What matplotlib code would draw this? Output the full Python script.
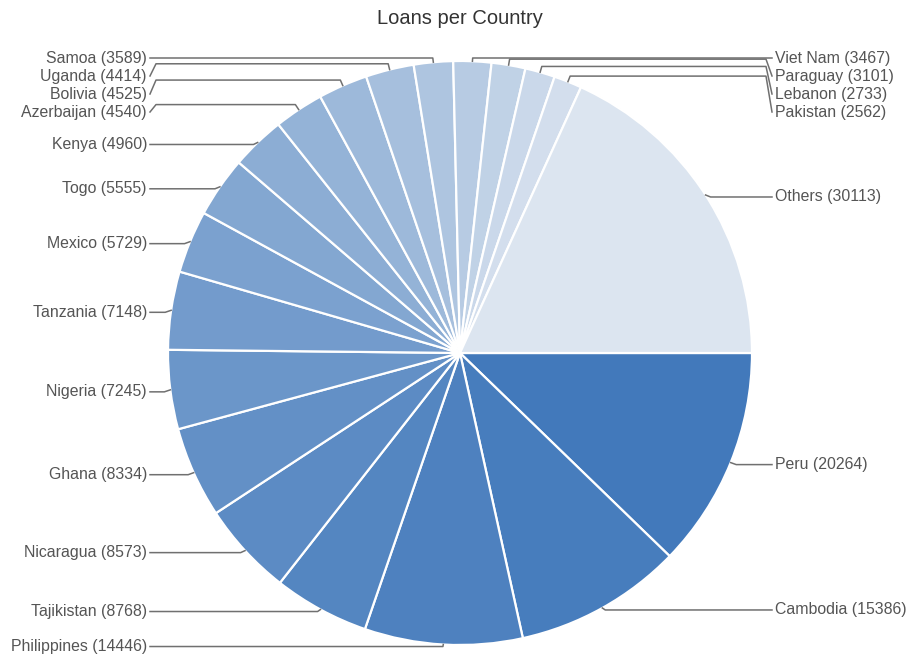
import numpy as np
import matplotlib
matplotlib.use("Agg")
import matplotlib.pyplot as plt

plt.rcParams['font.family'] = ['Liberation Sans', 'DejaVu Sans']

# data (clockwise from 3 o'clock)
countries = ["Peru", "Cambodia", "Philippines", "Tajikistan", "Nicaragua",
             "Ghana", "Nigeria", "Tanzania", "Mexico", "Togo", "Kenya",
             "Azerbaijan", "Bolivia", "Uganda", "Samoa", "Viet Nam",
             "Paraguay", "Lebanon", "Pakistan", "Others"]
loans = [20264, 15386, 14446, 8768, 8573, 8334, 7245, 7148, 5729, 5555,
         4960, 4540, 4525, 4414, 3589, 3467, 3101, 2733, 2562, 30113]

fig = plt.figure(figsize=(9.08, 6.58), dpi=100)
ax = fig.add_axes([0, 0, 1, 1])

cx, cy, r = 460, 353, 292
n = len(loans)
dark = np.array([66, 121, 187]) / 255
light = np.array([220, 229, 240]) / 255
t = (np.arange(n) / (n - 1)) ** 1.15
colors = [dark + (light - dark) * ti for ti in t]

# y axis is inverted below, so counterclock in data = clockwise on screen
wedges, _ = ax.pie(loans, colors=colors, center=(cx, cy), radius=r,
                   startangle=0, counterclock=True,
                   wedgeprops=dict(edgecolor='white', linewidth=1.6))
ax.set_xlim(0, 908)
ax.set_ylim(658, 0)
ax.set_aspect('equal')
ax.axis('off')

# labels + connectors
items = []
for w, name, val in zip(wedges, countries, loans):
    mid = np.deg2rad((w.theta1 + w.theta2) / 2)
    c, s = np.cos(mid), np.sin(mid)
    items.append(dict(label=f"{name} ({val})", c=c, s=s,
                      px=cx + r * c, py=cy + r * s,
                      bx=cx + (r + 6) * c, by=cy + (r + 6) * s,
                      side=1 if c > 0 else -1))

GAP, TOP = 18, 58
for side in (-1, 1):
    grp = sorted([it for it in items if it['side'] == side], key=lambda d: d['py'])
    clusters = []  # [start_y, [items]]
    for it in grp:
        cur = [max(it['py'] + 2, TOP), [it]]
        while clusters and clusters[-1][0] + GAP * len(clusters[-1][1]) > cur[0]:
            prev = clusters.pop()
            members = prev[1] + cur[1]
            start = np.mean([m['py'] + 2 - GAP * k for k, m in enumerate(members)])
            cur = [max(start, TOP), members]
        clusters.append(cur)
    for start, members in clusters:
        for k, m in enumerate(members):
            m['ly'] = start + GAP * k

for it in items:
    if it['side'] < 0:
        x0, xt, ha = 150, 147, 'right'
    else:
        x0, xt, ha = 772, 775, 'left'
    d = -it['side']
    if abs(it['ly'] - it['by']) > 7:
        # crowded label: bend near the text, run level with the break point
        xs = [x0, x0 + 6 * d, it['bx'], it['px']]
        ys = [it['ly'], it['by'], it['by'], it['py']]
    else:
        xs = [x0, it['bx'], it['px']]
        ys = [it['ly'], it['ly'], it['py']]
    ax.plot(xs, ys, color='#707070', lw=1.1, solid_joinstyle='round')
    ax.text(xt, it['ly'], it['label'], ha=ha, va='center',
            fontsize=11.4, color='#555555')

ax.text(460, 18, "Loans per Country", ha='center', va='center',
        fontsize=14.5, color='#333333')

fig.savefig('out.png', dpi=100)
